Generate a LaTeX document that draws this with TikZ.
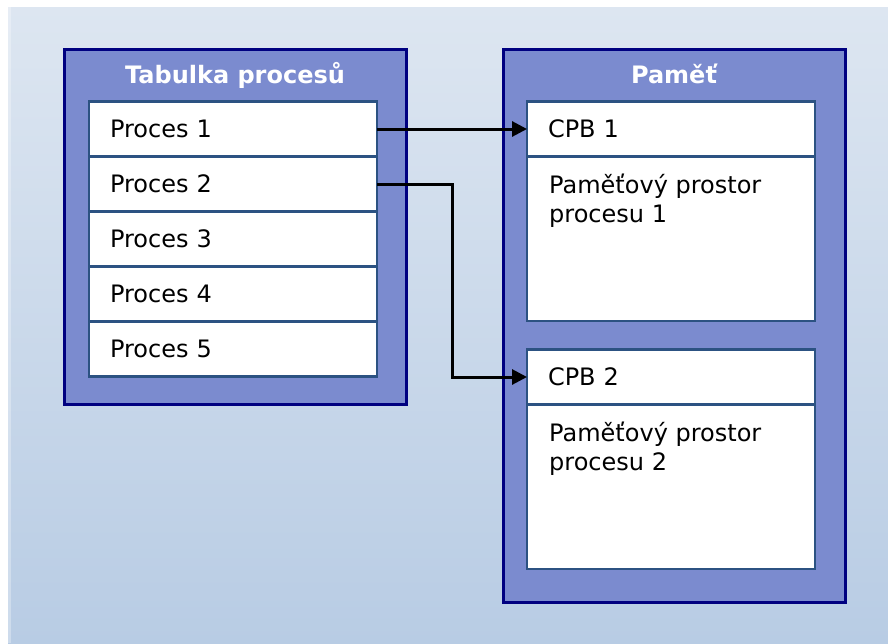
\documentclass[tikz,border=0pt]{standalone}
\usepackage{fontspec}
\setmainfont{DejaVu Sans}
\usetikzlibrary{arrows.meta,calc}
\definecolor{bgtop}{RGB}{221,230,241}
\definecolor{bgbot}{RGB}{184,204,228}
\definecolor{panel}{RGB}{123,139,207}
\definecolor{navyline}{RGB}{0,0,128}
\definecolor{cellline}{RGB}{44,82,130}
\begin{document}
\begin{tikzpicture}[x=1pt,y=-1pt,
  panelbox/.style={draw=navyline, fill=panel, line width=3pt, anchor=north west, inner sep=0pt, outer sep=0pt},
  cell/.style={draw=cellline, fill=white, line width=2.6pt, anchor=north west, minimum width=288pt, minimum height=55pt, inner xsep=21pt, inner ysep=0pt, outer sep=0pt, text width=246pt, align=left, font=\fontsize{24}{29}\selectfont},
  bodybox/.style={draw=cellline, fill=white, line width=2.6pt, anchor=north west, minimum width=288pt, minimum height=164.5pt, inner sep=0pt, outer sep=0pt},
  bodytext/.style={anchor=north west, inner sep=0pt, align=left, font=\fontsize{24}{29}\selectfont},
  title/.style={anchor=base, text=white, inner sep=0pt, font=\fontsize{24}{29}\selectfont\bfseries},
  link/.style={line width=3pt, -{Triangle[length=15pt,width=15pt]}}
]
\useasboundingbox (0,0) rectangle (888,643);
\fill[white] (0,0) rectangle (888,643);
\shade[top color=bgtop, bottom color=bgbot] (8,7) rectangle (888,643);
\fill[white, opacity=0.3] (8,7) rectangle (11,643);

% left panel
\node[panelbox, minimum width=342pt, minimum height=355pt] (tab) at (64,49) {};
\node[title] (tabtitle) at (235,83) {Tabulka procesů};
\node[cell] (p1) at (89,101.5) {Proces 1};
\node[cell] (p2) at (89,156.5) {Proces 2};
\node[cell] (p3) at (89,211.5) {Proces 3};
\node[cell] (p4) at (89,266.5) {Proces 4};
\node[cell] (p5) at (89,321.5) {Proces 5};

% right panel
\node[panelbox, minimum width=342pt, minimum height=553pt] (mem) at (503,49) {};
\node[title] (memtitle) at (674,83) {Paměť};
\node[cell] (cpb1) at (527,101.5) {CPB 1};
\node[bodybox] (body1) at (527,156.5) {};
\node[bodytext] (t1) at ($(body1.north west)+(22,15.5)$) {\rule{0pt}{21pt}Paměťový prostor\\procesu 1};
\node[cell] (cpb2) at (527,349.5) {CPB 2};
\node[bodybox] (body2) at (527,404.5) {};
\node[bodytext] (t2) at ($(body2.north west)+(22,15.5)$) {\rule{0pt}{21pt}Paměťový prostor\\procesu 2};

% connectors
\coordinate (bend) at (452,0);
\draw[link] (p1.east) -- (cpb1.west);
\draw[link] (p2.east) -- (p2.east -| bend) |- (cpb2.west);
\end{tikzpicture}
\end{document}
